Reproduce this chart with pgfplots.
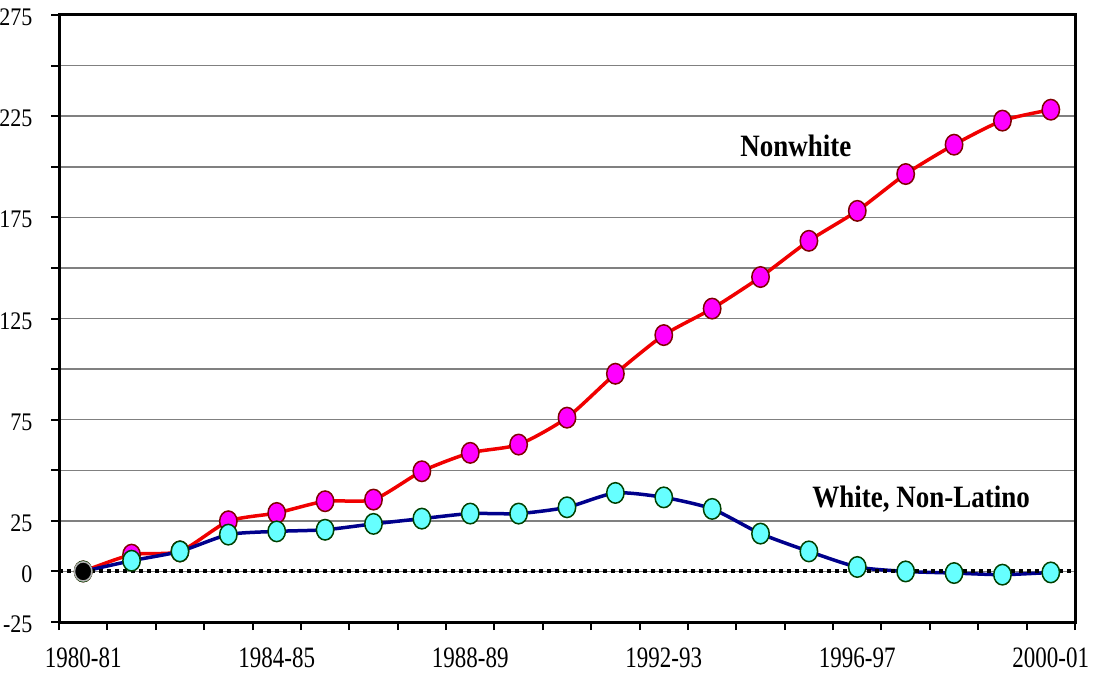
\documentclass[border=0pt]{standalone}
\usepackage{pgfplots}
\pgfplotsset{compat=1.18}
\usepackage{fontspec}
\setmainfont{Liberation Serif}
\usetikzlibrary{calc}
\definecolor{gridgray}{RGB}{128,128,128}
\definecolor{nwred}{RGB}{240,0,0}
\definecolor{nwfill}{RGB}{255,0,255}
\definecolor{nwedge}{RGB}{128,0,0}
\definecolor{wnavy}{RGB}{0,0,140}
\definecolor{wfill}{RGB}{102,255,255}
\definecolor{wedge}{RGB}{0,64,0}
\pgfplotstableread{
x nonwhite white
0 0 0
1 8.3 5.3
2 9.9 9.9
3 24.8 18.2
4 28.9 19.8
5 34.7 20.6
6 35.5 23.5
7 49.5 26.1
8 58.6 28.6
9 62.7 28.6
10 76.0 31.7
11 97.7 38.8
12 116.8 36.6
13 129.9 30.9
14 145.5 18.7
15 163.4 9.9
16 178.2 2.2
17 196.4 0
18 210.9 -0.8
19 222.8 -1.6
20 228.2 -0.5
}\datatable
\begin{document}
\begin{tikzpicture}
\begin{axis}[
  scale only axis, width=1016pt, height=607pt,
  xmin=-0.5, xmax=20.5, ymin=-25, ymax=275,
  axis line style={line width=3pt, black},
  tick align=outside,
  xtick pos=lower, ytick pos=left,
  tick style={black, line width=2pt},
  xtick={-0.5,0.5,...,20.5},
  xticklabels={},
  extra x ticks={0,4,...,20},
  extra x tick labels={1980-81,1984-85,1988-89,1992-93,1996-97,2000-01},
  extra x tick style={major tick length=0pt, grid=none,
    xticklabel style={font=\fontsize{23}{26}\selectfont, yscale=1.12, inner sep=0pt, anchor=center, yshift=-28pt}},
  major tick length=8pt,
  ytick={-25,0,...,275},
  yticklabels={-25,0,25,,75,,125,,175,,225,,275},
  ymajorgrids,
  major grid style={gridgray, line width=1.5pt},
  tick label style={font=\fontsize{22}{26}\selectfont, yscale=1.15},
  yticklabel style={xshift=-15pt, yshift=-2pt},
]
\coordinate (SW) at (rel axis cs:0,0);
\coordinate (NE) at (rel axis cs:1,1);
\addplot[nwred, line width=3.5pt, smooth, tension=0.4, mark=*, mark size=8.7pt,
  mark options={fill=nwfill, draw=nwedge, line width=1.5pt, yscale=1.18}]
  table[x=x, y=nonwhite] {\datatable};
\addplot[wnavy, line width=3.5pt, smooth, tension=0.4, mark=*, mark size=8.7pt,
  mark options={fill=wfill, draw=wedge, line width=1.5pt, yscale=1.18}]
  table[x=x, y=white] {\datatable};
\addplot[black, line width=4pt, dash pattern=on 4pt off 4pt] coordinates {(-0.5,0) (20.5,0)};
\addplot[only marks, mark=*, mark size=8.7pt, mark options={fill=black, draw=gray!60, line width=1.5pt, yscale=1.1}] coordinates {(0,0)};
\node[yscale=1.15] at (axis cs:14.73,210.2) {\bfseries\fontsize{27}{30}\selectfont Nonwhite};
\node[yscale=1.15] at (axis cs:17.32,35.5) {\bfseries\fontsize{27}{30}\selectfont White, Non-Latino};
\end{axis}
\pgfresetboundingbox
\useasboundingbox ($(SW)+(-59pt,-50pt)$) rectangle ($(NE)+(19pt,15pt)$);
\end{tikzpicture}
\end{document}
